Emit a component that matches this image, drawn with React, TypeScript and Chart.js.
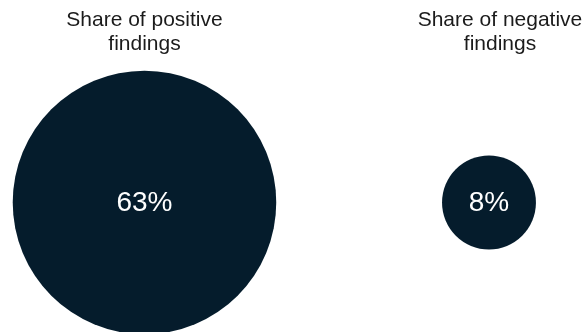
import { useEffect, useRef } from "react";
import { Chart, registerables } from "chart.js";

Chart.register(...registerables);

// Chart content
const categories = ["positive", "negative"];
const titleLines = [
  ["Share of positive", "findings"],
  ["Share of negative", "findings"],
];
const shares = [63, 8];
const valueLabels = ["63%", "8%"];

const BUBBLE_COLOR = "#051c2c";
const TITLE_COLOR = "#1b1b1b";
const FONT = '"Liberation Sans", Arial, sans-serif';
// bubble area is proportional to the share
const RADIUS_PER_SQRT = 16.6;
// horizontal nudge of each column heading, px
const TITLE_SHIFT = [0, 11];

const bubbleText = {
  id: "bubbleText",
  afterDatasetsDraw(chart: any) {
    const { ctx } = chart;
    const meta = chart.getDatasetMeta(0);
    ctx.save();
    ctx.textAlign = "center";

    ctx.fillStyle = "#ffffff";
    ctx.font = `28px ${FONT}`;
    ctx.textBaseline = "middle";
    meta.data.forEach((el: any, i: number) => {
      ctx.fillText(valueLabels[i], el.x, el.y + 1);
    });

    ctx.fillStyle = TITLE_COLOR;
    ctx.font = `21px ${FONT}`;
    ctx.textBaseline = "alphabetic";
    meta.data.forEach((el: any, i: number) => {
      titleLines[i].forEach((line, j) => {
        ctx.fillText(line, el.x + TITLE_SHIFT[i], 26 + j * 24);
      });
    });
    ctx.restore();
  },
};

export default function App() {
  const canvasRef = useRef<HTMLCanvasElement | null>(null);

  useEffect(() => {
    document.body.style.margin = "0";
    const canvas = canvasRef.current;
    if (!canvas) return;
    const chart = new Chart(canvas, {
      type: "bubble",
      data: {
        labels: categories,
        datasets: [
          {
            data: shares.map((v, i) => ({
              x: i,
              y: 0,
              r: RADIUS_PER_SQRT * Math.sqrt(v),
            })),
            backgroundColor: BUBBLE_COLOR,
            borderWidth: 0,
            hoverBorderWidth: 0,
            clip: false,
          },
        ],
      },
      options: {
        animation: false,
        responsive: false,
        events: [],
        layout: { padding: 0, autoPadding: false },
        plugins: {
          legend: { display: false },
          tooltip: { enabled: false },
          title: { display: false },
        },
        scales: {
          x: { type: "linear", min: -0.4194, max: 1.2816, display: false },
          y: { type: "linear", min: -1, max: 1.5637, display: false },
        },
      },
      plugins: [bubbleText],
    });
    return () => chart.destroy();
  }, []);

  return (
    <div style={{ width: 586, height: 332, background: "#ffffff" }}>
      <canvas ref={canvasRef} width={586} height={332} />
    </div>
  );
}
